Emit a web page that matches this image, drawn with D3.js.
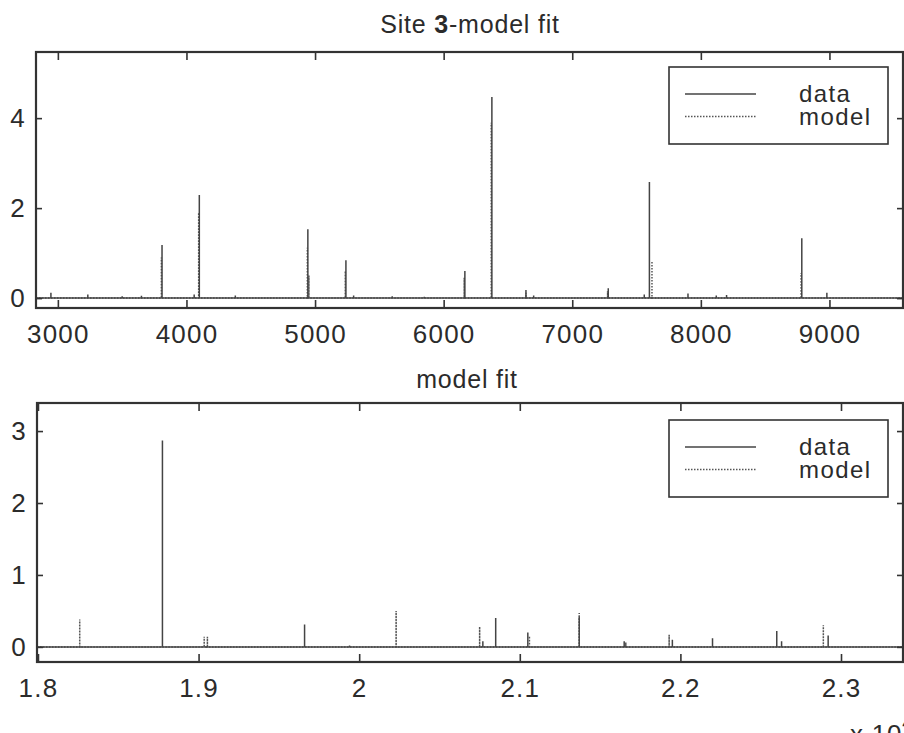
<!DOCTYPE html>
<html lang="en">
<head>
<meta charset="UTF-8">
<title>Site 3 - model fit</title>
<script src="https://d3js.org/d3.v7.min.js"></script>
<style>
  body { margin: 0; background: #fff; overflow: hidden; }
  svg { font-family: "Liberation Sans", Arial, sans-serif; display: block; }
  .tick text { font-size: 26px; fill: #2b2b2b; letter-spacing: 1.2px; }
  .tick line { stroke: #333; stroke-width: 1.6; }
  .domain { display: none; }
  .frame { fill: none; stroke: #333; stroke-width: 2.2; }
  .title { font-size: 25px; fill: #2b2b2b; letter-spacing: 0.8px; }
  .legend rect { fill: #fff; stroke: #333; stroke-width: 1.6; }
  .legend text { font-size: 24px; fill: #2b2b2b; letter-spacing: 1.4px; }
  .data { fill: none; stroke: #444; stroke-width: 1.5; }
  .model { fill: none; stroke: #555; stroke-width: 1.5; stroke-dasharray: 1.5 1.5; }
</style>
</head>
<body>
<svg id="chart" width="904" height="733"></svg>
<script>
// ---- top panel (Site 3) ----
const topXTicks = [3000, 4000, 5000, 6000, 7000, 8000, 9000];
const topYTicks = [0, 2, 4];
const topDataX = [2946, 3233, 3500, 3650, 3810, 4060, 4100, 4380, 4944, 5240, 5300, 5600, 5850, 6165, 6375, 6640, 6700, 7280, 7560, 7600, 7900, 8120, 8200, 8785, 8980];
const topDataY = [0.12, 0.08, 0.04, 0.05, 1.18, 0.08, 2.29, 0.06, 1.53, 0.84, 0.06, 0.04, 0.03, 0.6, 4.47, 0.18, 0.06, 0.22, 0.08, 2.58, 0.1, 0.06, 0.07, 1.33, 0.12];
const topModelX = [3805, 4095, 4940, 4952, 5235, 6160, 6370, 6640, 7275, 7620, 8780];
const topModelY = [0.9, 1.9, 1.12, 0.5, 0.6, 0.45, 3.9, 0.12, 0.15, 0.82, 0.56];

// ---- bottom panel (x 10^4) ----
const botXTicks = [1.8, 1.9, 2.0, 2.1, 2.2, 2.3];
const botYTicks = [0, 1, 2, 3];
const botDataX = [1.8775, 1.966, 1.994, 2.077, 2.085, 2.105, 2.137, 2.165, 2.195, 2.22, 2.26, 2.263, 2.292];
const botDataY = [2.87, 0.31, 0.02, 0.08, 0.4, 0.2, 0.42, 0.08, 0.1, 0.12, 0.22, 0.08, 0.16];
const botModelX = [1.826, 1.9035, 1.9055, 2.023, 2.075, 2.106, 2.137, 2.166, 2.193, 2.289];
const botModelY = [0.38, 0.14, 0.14, 0.5, 0.28, 0.15, 0.47, 0.06, 0.17, 0.3];

const legendLabels = ["data", "model"];

const svg = d3.select("#chart");

// spikes on a zero baseline
function spikes(xs, ys, domain) {
  const pts = [[domain[0], 0]];
  d3.range(xs.length)
    .sort((a, b) => xs[a] - xs[b])
    .forEach(i => {
      pts.push([xs[i], 0], [xs[i], ys[i]], [xs[i], 0]);
    });
  pts.push([domain[1], 0]);
  return pts;
}

function drawPanel(cfg) {
  const x = d3.scaleLinear().domain(cfg.xDomain).range([cfg.left, cfg.right]);
  const y = d3.scaleLinear().domain(cfg.yDomain).range([cfg.bottom, cfg.top]);
  const g = svg.append("g");

  const line = d3.line().x(d => x(d[0])).y(d => y(d[1]));

  g.append("path").attr("class", "model")
    .attr("d", line(spikes(cfg.modelX, cfg.modelY, cfg.xDomain)));
  g.append("path").attr("class", "data")
    .attr("d", line(spikes(cfg.dataX, cfg.dataY, cfg.xDomain)));

  // axes, ticks pointing inward
  g.append("g").attr("transform", `translate(0,${cfg.bottom})`)
    .call(d3.axisBottom(x).tickValues(cfg.xTicks).tickFormat(cfg.xFormat)
      .tickSizeInner(-8).tickSizeOuter(0).tickPadding(17));
  g.append("g").attr("transform", `translate(0,${cfg.top})`)
    .call(d3.axisTop(x).tickValues(cfg.xTicks).tickFormat("")
      .tickSizeInner(-8).tickSizeOuter(0));
  g.append("g").attr("transform", `translate(${cfg.left},0)`)
    .call(d3.axisLeft(y).tickValues(cfg.yTicks).tickFormat(d3.format("d"))
      .tickSizeInner(-6).tickSizeOuter(0).tickPadding(10));
  g.append("g").attr("transform", `translate(${cfg.right},0)`)
    .call(d3.axisRight(y).tickValues(cfg.yTicks).tickFormat("")
      .tickSizeInner(-6).tickSizeOuter(0));

  g.append("rect").attr("class", "frame")
    .attr("x", cfg.left).attr("y", cfg.top)
    .attr("width", cfg.right - cfg.left).attr("height", cfg.bottom - cfg.top);

  // legend
  const lg = g.append("g").attr("class", "legend")
    .attr("transform", `translate(669,${cfg.legendTop})`);
  lg.append("rect").attr("width", 219).attr("height", 77);
  legendLabels.forEach((name, i) => {
    lg.append("line").attr("class", i === 0 ? "data" : "model")
      .attr("x1", 16).attr("x2", 87)
      .attr("y1", 27 + i * 22.5).attr("y2", 27 + i * 22.5);
    lg.append("text").attr("x", 130).attr("y", 35 + i * 23).text(name);
  });
}

drawPanel({
  left: 36, right: 903, top: 52, bottom: 308,
  xDomain: [2830, 9572], yDomain: [-0.22, 5.47],
  xTicks: topXTicks, yTicks: topYTicks, xFormat: d3.format("d"),
  dataX: topDataX, dataY: topDataY, modelX: topModelX, modelY: topModelY,
  legendTop: 67
});

drawPanel({
  left: 37, right: 903, top: 403, bottom: 662,
  xDomain: [1.7994, 2.3386], yDomain: [-0.21, 3.39],
  xTicks: botXTicks, yTicks: botYTicks, xFormat: d => d3.format("")(+d.toFixed(1)),
  dataX: botDataX, dataY: botDataY, modelX: botModelX, modelY: botModelY,
  legendTop: 420
});

// titles
const t1 = svg.append("text").attr("class", "title")
  .attr("x", 470).attr("y", 33).attr("text-anchor", "middle");
t1.append("tspan").text("Site ");
t1.append("tspan").attr("font-weight", "bold").text("3");
t1.append("tspan").text("-model fit");

svg.append("text").attr("class", "title")
  .attr("x", 467).attr("y", 388).attr("text-anchor", "middle")
  .text("model fit");

// exponent label, partly off the page as in the source
const ex = svg.append("text").attr("class", "title")
  .attr("x", 850).attr("y", 743).style("font-size", "26px");
ex.append("tspan").text("x 10");
ex.append("tspan").attr("dy", -14).style("font-size", "18px").text("4");
</script>
</body>
</html>
